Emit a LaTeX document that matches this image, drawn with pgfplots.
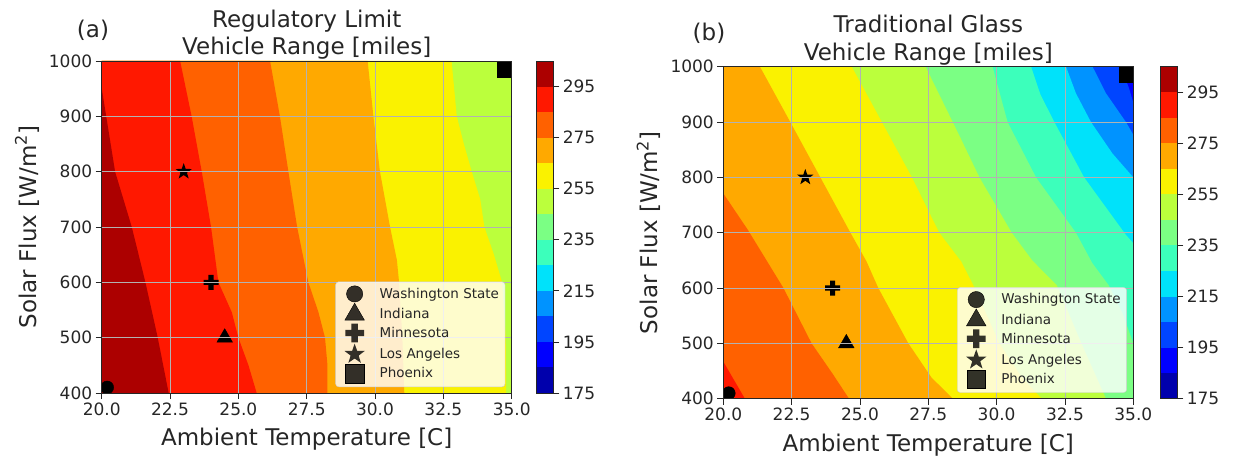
\documentclass[border=0pt]{standalone}
\usepackage{fontspec}
\setmainfont{DejaVu Sans}
\usepackage{pgfplots}
\pgfplotsset{compat=1.18}
\definecolor{c0}{RGB}{0,0,172}
\definecolor{c1}{RGB}{0,0,255}
\definecolor{c2}{RGB}{0,69,255}
\definecolor{c3}{RGB}{0,147,255}
\definecolor{c4}{RGB}{0,226,250}
\definecolor{c5}{RGB}{60,255,187}
\definecolor{c6}{RGB}{123,255,132}
\definecolor{c7}{RGB}{187,255,60}
\definecolor{c8}{RGB}{250,242,0}
\definecolor{c9}{RGB}{255,169,0}
\definecolor{c10}{RGB}{255,97,0}
\definecolor{c11}{RGB}{255,24,0}
\definecolor{c12}{RGB}{172,0,0}
\definecolor{txt}{RGB}{38,38,38}
\pgfdeclareplotmark{fstar}{%
  \pgfpathmoveto{\pgfpointpolar{90}{\pgfplotmarksize}}%
  \pgfpathlineto{\pgfpointpolar{126}{0.4\pgfplotmarksize}}%
  \pgfpathlineto{\pgfpointpolar{162}{\pgfplotmarksize}}%
  \pgfpathlineto{\pgfpointpolar{198}{0.4\pgfplotmarksize}}%
  \pgfpathlineto{\pgfpointpolar{234}{\pgfplotmarksize}}%
  \pgfpathlineto{\pgfpointpolar{270}{0.4\pgfplotmarksize}}%
  \pgfpathlineto{\pgfpointpolar{306}{\pgfplotmarksize}}%
  \pgfpathlineto{\pgfpointpolar{342}{0.4\pgfplotmarksize}}%
  \pgfpathlineto{\pgfpointpolar{18}{\pgfplotmarksize}}%
  \pgfpathlineto{\pgfpointpolar{54}{0.4\pgfplotmarksize}}%
  \pgfpathclose
  \pgfusepathqfill}
\pgfdeclareplotmark{fplus}{%
  \pgfpathmoveto{\pgfpoint{-0.34\pgfplotmarksize}{\pgfplotmarksize}}%
  \pgfpathlineto{\pgfpoint{0.34\pgfplotmarksize}{\pgfplotmarksize}}%
  \pgfpathlineto{\pgfpoint{0.34\pgfplotmarksize}{0.34\pgfplotmarksize}}%
  \pgfpathlineto{\pgfpoint{\pgfplotmarksize}{0.34\pgfplotmarksize}}%
  \pgfpathlineto{\pgfpoint{\pgfplotmarksize}{-0.34\pgfplotmarksize}}%
  \pgfpathlineto{\pgfpoint{0.34\pgfplotmarksize}{-0.34\pgfplotmarksize}}%
  \pgfpathlineto{\pgfpoint{0.34\pgfplotmarksize}{-\pgfplotmarksize}}%
  \pgfpathlineto{\pgfpoint{-0.34\pgfplotmarksize}{-\pgfplotmarksize}}%
  \pgfpathlineto{\pgfpoint{-0.34\pgfplotmarksize}{-0.34\pgfplotmarksize}}%
  \pgfpathlineto{\pgfpoint{-\pgfplotmarksize}{-0.34\pgfplotmarksize}}%
  \pgfpathlineto{\pgfpoint{-\pgfplotmarksize}{0.34\pgfplotmarksize}}%
  \pgfpathlineto{\pgfpoint{-0.34\pgfplotmarksize}{0.34\pgfplotmarksize}}%
  \pgfpathclose
  \pgfusepathqfill}
\pgfplotsset{
  loc/.style={only marks, black, mark options={solid, fill=black, draw=black},
    legend image code/.code={\path[draw=none, fill=none] (0pt,-8pt) rectangle (38pt,8pt);\draw[##1, every mark/.append style={scale=1.25}] plot coordinates {(15pt,0pt)};}},
  cont/.style={
    scale only axis, width=410pt, height=332pt,
    xmin=20, xmax=35, ymin=400, ymax=1000,
    xtick={20,22.5,25,27.5,30,32.5,35}, ytick={400,500,600,700,800,900,1000},
    xticklabel style={/pgf/number format/.cd, fixed, fixed zerofill, precision=1},
    yticklabel style={/pgf/number format/.cd, 1000 sep={}},
    /pgf/number format/assume math mode=true,
    tick label style={font=\fontsize{17}{20}\selectfont, text=txt},
    label style={font=\fontsize{23}{27}\selectfont, text=txt},
    xlabel style={yshift=-6pt},
    ylabel style={yshift=3pt},
    title style={font=\fontsize{23}{27.5}\selectfont, align=center, text=txt, yshift=-8pt},
    grid=major, grid style={line width=0.9pt, color=black!30},
    axis on top, tick align=outside, tick pos=left, major tick length=6pt,
    tick style={line width=0.8pt, txt},
    axis line style={line width=0.8pt, txt},
    clip marker paths=true,
    xlabel={Ambient Temperature [C]},
    ylabel={Solar Flux [W/m\textsuperscript{2}]},
    legend cell align=left,
    legend style={at={(1,0)}, anchor=south east, xshift=-6.5pt, yshift=6pt,
      draw=black!20, fill=white, fill opacity=0.8, text opacity=1,
      rounded corners=3pt, font=\fontsize{13.5}{16}\selectfont, text=txt,
      row sep=1.2pt, inner xsep=4pt, inner ysep=4pt},
  },
  cbar/.style={
    scale only axis, width=16.6pt, height=332pt,
    xmin=0, xmax=1, ymin=175, ymax=305,
    xtick=\empty, ytick={175,195,215,235,255,275,295},
    ytick pos=right, yticklabel pos=right,
    /pgf/number format/assume math mode=true,
    tick label style={font=\fontsize{17}{20}\selectfont, text=txt},
    tick align=outside, major tick length=6pt,
    tick style={line width=0.8pt, txt},
    axis line style={line width=0.8pt, txt},
    axis on top,
  },
}
\newcommand{\cbarfill}{%
\addplot[draw=none, fill=c0] coordinates {(0,175)(1,175)(1,185)(0,185)} -- cycle;
\addplot[draw=none, fill=c1] coordinates {(0,185)(1,185)(1,195)(0,195)} -- cycle;
\addplot[draw=none, fill=c2] coordinates {(0,195)(1,195)(1,205)(0,205)} -- cycle;
\addplot[draw=none, fill=c3] coordinates {(0,205)(1,205)(1,215)(0,215)} -- cycle;
\addplot[draw=none, fill=c4] coordinates {(0,215)(1,215)(1,225)(0,225)} -- cycle;
\addplot[draw=none, fill=c5] coordinates {(0,225)(1,225)(1,235)(0,235)} -- cycle;
\addplot[draw=none, fill=c6] coordinates {(0,235)(1,235)(1,245)(0,245)} -- cycle;
\addplot[draw=none, fill=c7] coordinates {(0,245)(1,245)(1,255)(0,255)} -- cycle;
\addplot[draw=none, fill=c8] coordinates {(0,255)(1,255)(1,265)(0,265)} -- cycle;
\addplot[draw=none, fill=c9] coordinates {(0,265)(1,265)(1,275)(0,275)} -- cycle;
\addplot[draw=none, fill=c10] coordinates {(0,275)(1,275)(1,285)(0,285)} -- cycle;
\addplot[draw=none, fill=c11] coordinates {(0,285)(1,285)(1,295)(0,295)} -- cycle;
\addplot[draw=none, fill=c12] coordinates {(0,295)(1,295)(1,305)(0,305)} -- cycle;
}
\newcommand{\locations}{%
\addplot[loc, mark=*, mark size=6.5pt] coordinates {(20.2,410)};
\addlegendentry{Washington State}
\addplot[loc, mark=triangle*, mark size=9pt] coordinates {(24.5,500)};
\addlegendentry{Indiana}
\addplot[loc, mark=fplus, mark size=7.5pt] coordinates {(24,600)};
\addlegendentry{Minnesota}
\addplot[loc, mark=fstar, mark size=8.5pt] coordinates {(23,800)};
\addlegendentry{Los Angeles}
\addplot[loc, mark=square*, mark size=7.5pt] coordinates {(34.75,985)};
\addlegendentry{Phoenix}
}
\begin{document}
\begin{tikzpicture}
\useasboundingbox (0,0) rectangle (1233pt,458pt);
% ---------------- (a) ----------------
\begin{axis}[cont, at={(101.7pt,65pt)}, anchor=south west,
  title={Regulatory Limit\\Vehicle Range [miles]}]
\addplot[forget plot, draw=none, fill=c7] coordinates {(20,400)(35,400)(35,1000)(20,1000)} -- cycle;
\addplot[forget plot, draw=none, fill=c8] coordinates {(32.8,1000)(32.99,900)(33.25,850)(33.54,800)(33.85,750)(34.0,700)(34.35,650)(34.65,600)(34.78,500)(34.8,400)(20,400)(20,1000)} -- cycle;
\addplot[forget plot, draw=none, fill=c9] coordinates {(29.73,1000)(29.94,900)(30.18,800)(30.55,700)(30.8,640)(30.88,600)(31.0,500)(31.07,400)(20,400)(20,1000)} -- cycle;
\addplot[forget plot, draw=none, fill=c10] coordinates {(26.16,1000)(26.52,900)(26.83,800)(27.15,700)(27.56,600)(27.93,546)(28.17,500)(28.26,450)(28.26,400)(20,400)(20,1000)} -- cycle;
\addplot[forget plot, draw=none, fill=c11] coordinates {(22.87,1000)(23.29,900)(23.66,800)(24.0,700)(24.27,600)(24.76,546)(25.0,500)(25.37,450)(25.67,400)(20,400)(20,1000)} -- cycle;
\addplot[forget plot, draw=none, fill=c12] coordinates {(20,951)(20.49,800)(21.1,700)(21.6,600)(22.05,500)(22.45,400)(20,400)} -- cycle;
\locations
\end{axis}
\begin{axis}[cbar, at={(536.7pt,65pt)}, anchor=south west]
\cbarfill
\end{axis}
\node[font=\fontsize{23}{27}\selectfont, text=txt] at (93pt,428pt) {(a)};
% ---------------- (b) ----------------
\begin{axis}[cont, at={(723.3pt,59.3pt)}, anchor=south west,
  title={Traditional Glass\\Vehicle Range [miles]}]
\addplot[forget plot, draw=none, fill=c1] coordinates {(20,400)(35,400)(35,1000)(20,1000)} -- cycle;
\addplot[forget plot, draw=none, fill=c2] coordinates {(34.55,1000)(34.85,960)(35,935)(35,400)(20,400)(20,1000)} -- cycle;
\addplot[forget plot, draw=none, fill=c3] coordinates {(33.51,1000)(34.0,952)(34.73,900)(35,877)(35,400)(20,400)(20,1000)} -- cycle;
\addplot[forget plot, draw=none, fill=c4] coordinates {(32.54,1000)(32.9,952)(33.45,900)(34.24,843)(35,800)(35,400)(20,400)(20,1000)} -- cycle;
\addplot[forget plot, draw=none, fill=c5] coordinates {(31.26,1000)(31.6,950)(32.11,900)(33.2,800)(34.73,696)(35,681)(35,400)(20,400)(20,1000)} -- cycle;
\addplot[forget plot, draw=none, fill=c6] coordinates {(29.85,1000)(30.4,900)(31.44,800)(32.9,700)(33.5,645)(34.1,605)(34.6,555)(35,500)(35,400)(20,400)(20,1000)} -- cycle;
\addplot[forget plot, draw=none, fill=c7] coordinates {(27.4,1000)(28.66,873)(29.37,800)(30.55,700)(31.3,650)(32.2,605)(33.1,500)(34.0,400)(20,400)(20,1000)} -- cycle;
\addplot[forget plot, draw=none, fill=c8] coordinates {(24.7,1000)(25.8,900)(26.9,800)(27.9,700)(28.7,648)(29.2,600)(30.1,500)(30.9,440)(31.65,400)(20,400)(20,1000)} -- cycle;
\addplot[forget plot, draw=none, fill=c9] coordinates {(21.34,1000)(22.45,900)(23.55,800)(24.65,700)(25.24,648)(25.67,600)(26.77,500)(27.62,438)(28.4,400)(20,400)(20,1000)} -- cycle;
\addplot[forget plot, draw=none, fill=c10] coordinates {(20,771)(20.9,705)(22.2,600)(23.23,500)(24.0,445)(24.6,400)(20,400)} -- cycle;
\addplot[forget plot, draw=none, fill=c11] coordinates {(20,467)(20.79,400)(20,400)} -- cycle;
\locations
\end{axis}
\begin{axis}[cbar, at={(1160.7pt,59.3pt)}, anchor=south west]
\cbarfill
\end{axis}
\node[font=\fontsize{23}{27}\selectfont, text=txt] at (709pt,425pt) {(b)};
\end{tikzpicture}
\end{document}
